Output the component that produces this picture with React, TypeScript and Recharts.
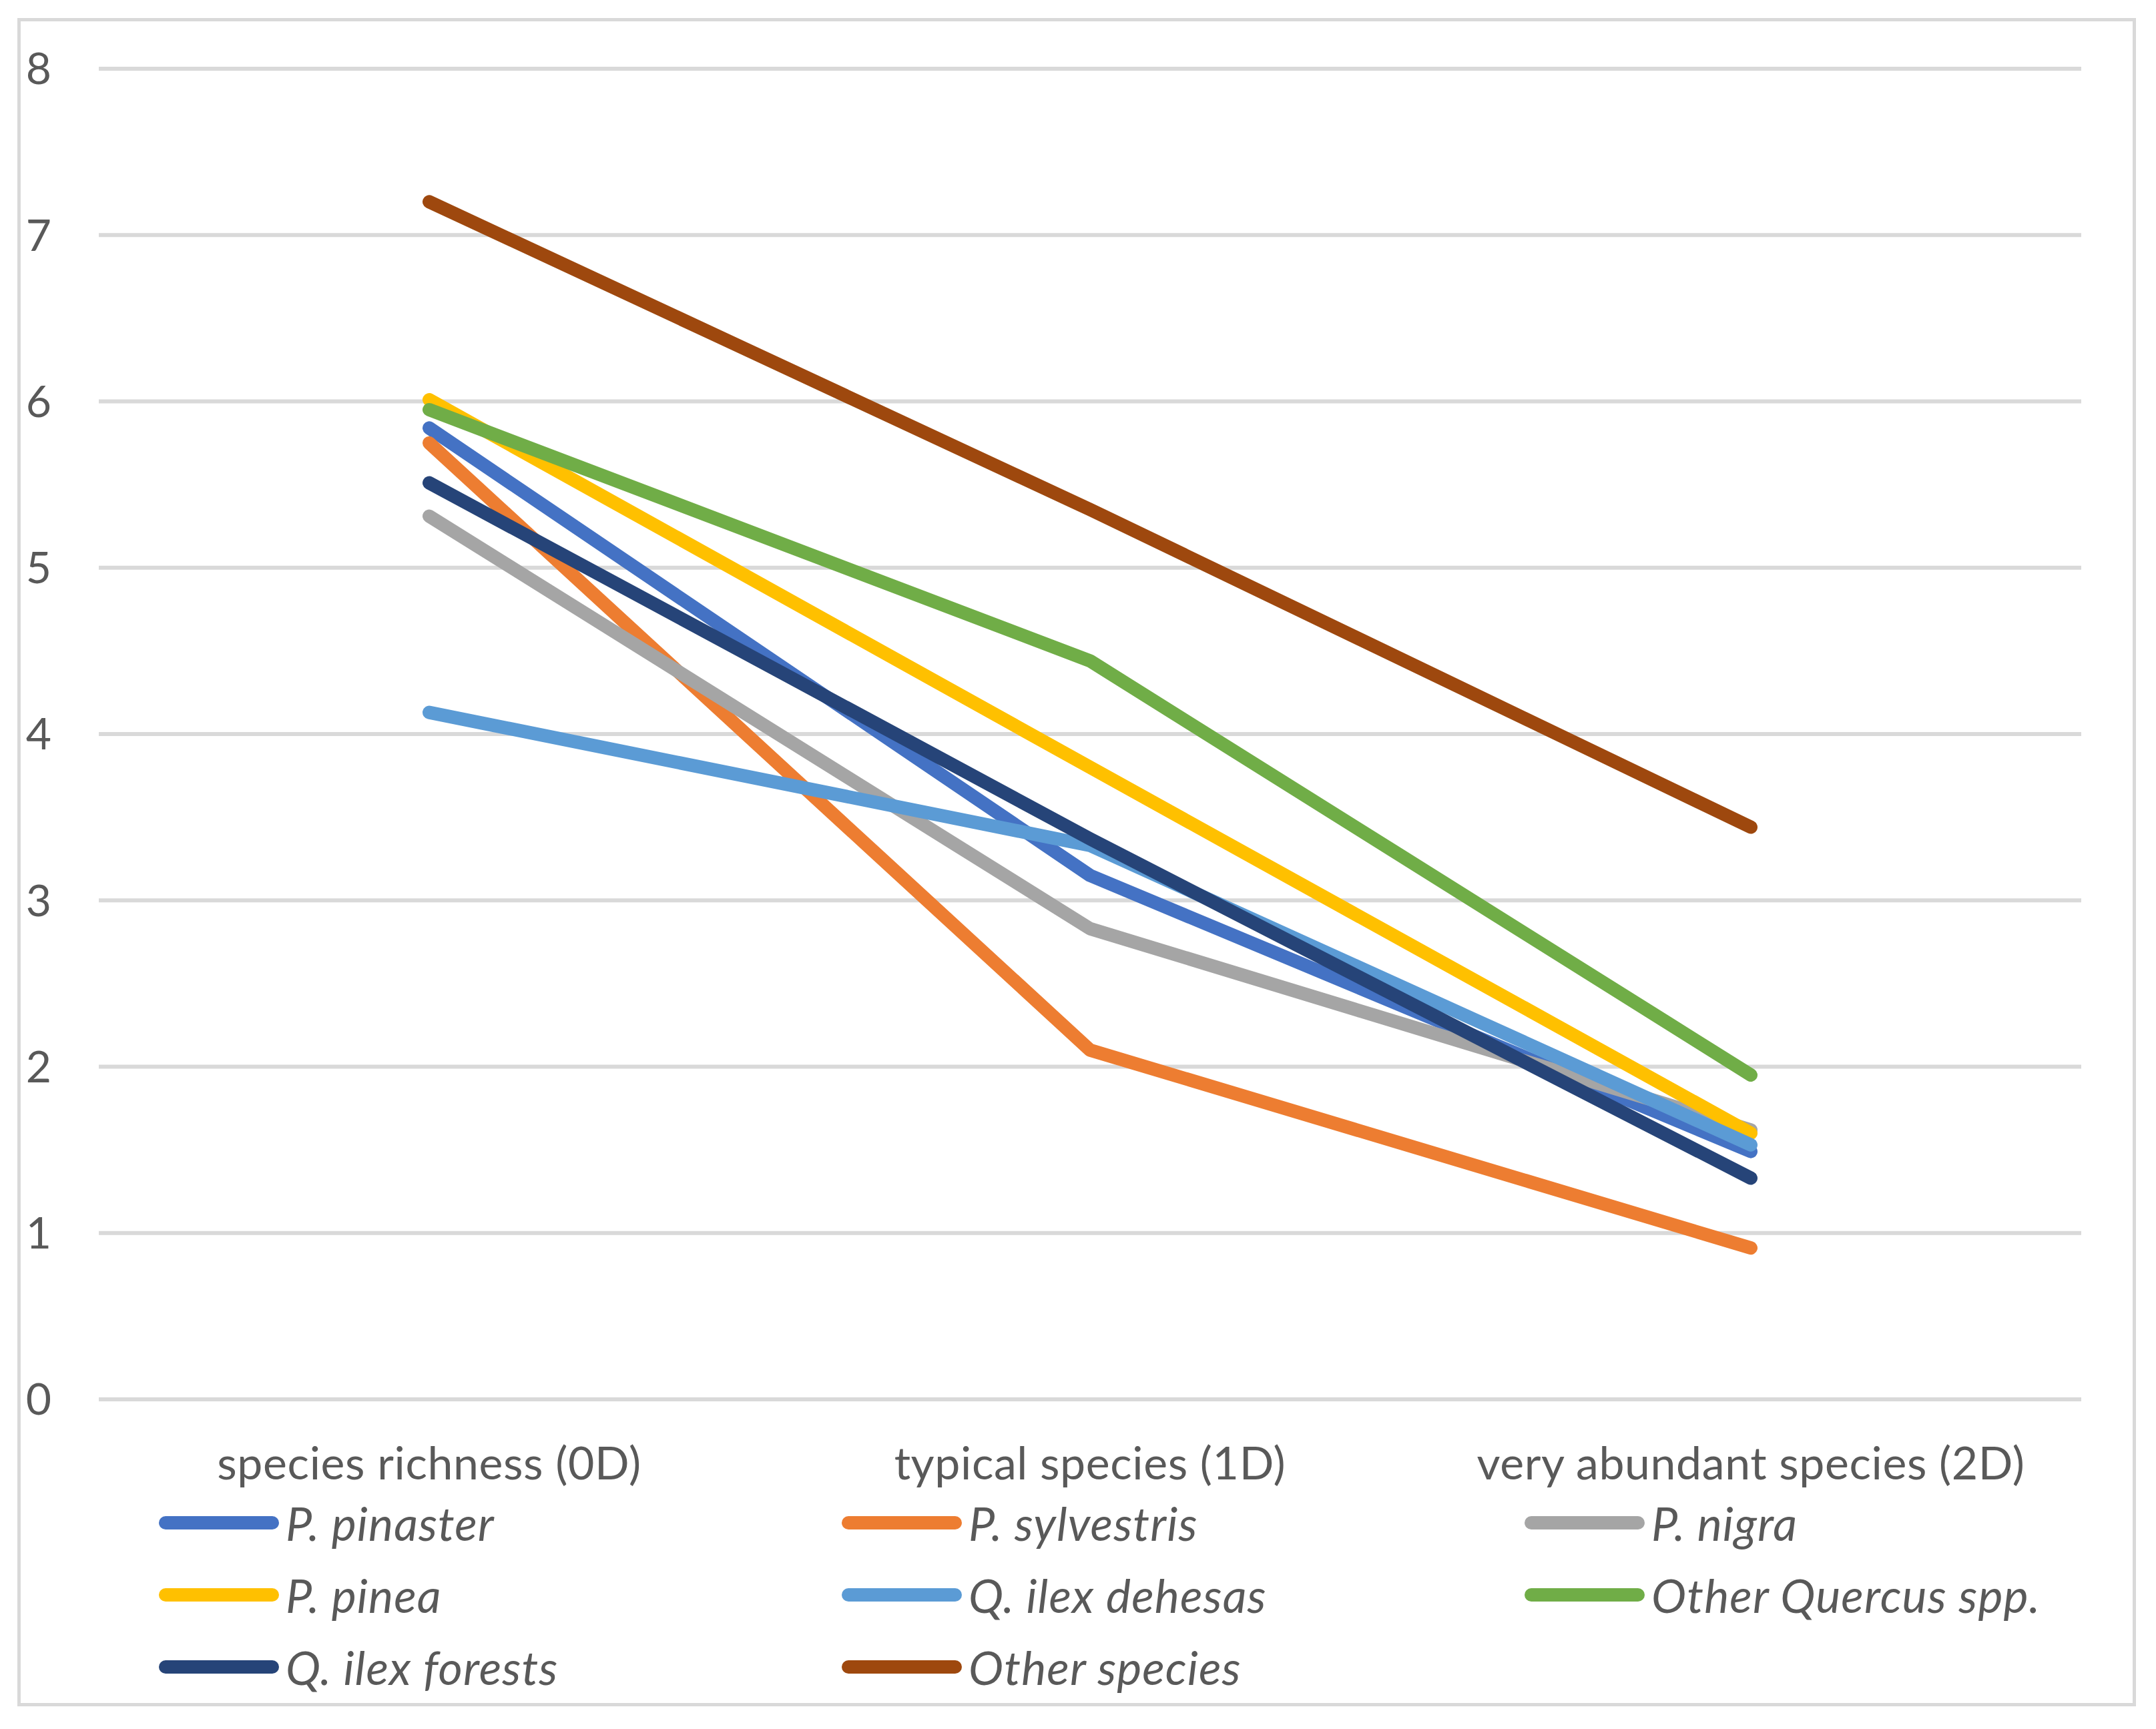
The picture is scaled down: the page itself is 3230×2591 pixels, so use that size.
import React from 'react';
import { LineChart, Line, XAxis, YAxis, CartesianGrid } from 'recharts';

const categories = ['species richness (0D)', 'typical species (1D)', 'very abundant species (2D)'];
const yTicks = [0, 1, 2, 3, 4, 5, 6, 7, 8];

const pPinaster = [5.84, 3.15, 1.49];
const pSylvestris = [5.75, 2.1, 0.91];
const pNigra = [5.31, 2.83, 1.62];
const pPinea = [6.01, 3.8, 1.6];
const qIlexDehesas = [4.13, 3.33, 1.53];
const otherQuercus = [5.95, 4.44, 1.95];
const qIlexForests = [5.51, 3.37, 1.33];
const otherSpecies = [7.2, 5.35, 3.44];

const series = [
  { key: 'pinaster', name: 'P. pinaster', values: pPinaster, color: '#4472C4' },
  { key: 'sylvestris', name: 'P. sylvestris', values: pSylvestris, color: '#ED7D31' },
  { key: 'nigra', name: 'P. nigra', values: pNigra, color: '#A5A5A5' },
  { key: 'pinea', name: 'P. pinea', values: pPinea, color: '#FFC000' },
  { key: 'dehesas', name: 'Q. ilex dehesas', values: qIlexDehesas, color: '#5B9BD5' },
  { key: 'otherQuercus', name: 'Other Quercus spp.', values: otherQuercus, color: '#70AD47' },
  { key: 'forests', name: 'Q. ilex forests', values: qIlexForests, color: '#264478' },
  { key: 'other', name: 'Other species', values: otherSpecies, color: '#9E480E' },
];

const data = categories.map((cat, i) => {
  const row: Record<string, string | number> = { category: cat };
  series.forEach(s => { row[s.key] = s.values[i]; });
  return row;
});

const FONT = 'Lato, "Open Sans", sans-serif';
const TEXT = '#595959';

export default function App() {
  return (
    <div style={{ position: 'absolute', left: 0, top: 0, width: 3230, height: 2591, background: '#fff', fontFamily: FONT }}>
      <LineChart
        width={3230}
        height={2591}
        data={data}
        margin={{ top: 103, right: 112, left: 28, bottom: 464 }}
      >
        <CartesianGrid vertical={false} stroke="#D9D9D9" strokeWidth={6} />
        <XAxis
          dataKey="category"
          height={30}
          axisLine={false}
          tickLine={false}
          tickSize={0}
          tickMargin={72}
          padding={{ left: 495, right: 495 }}
          tick={{ fill: TEXT, fontSize: 68, fontFamily: FONT, letterSpacing: 0.6 }}
          interval={0}
        />
        <YAxis
          domain={[0, 8]}
          ticks={yTicks}
          width={120}
          axisLine={false}
          tickLine={false}
          tickSize={0}
          tickMargin={71}
          tick={{ fill: TEXT, fontSize: 66, fontFamily: FONT }}
        />
        {series.map(s => (
          <Line
            key={s.key}
            type="linear"
            dataKey={s.key}
            name={s.name}
            stroke={s.color}
            strokeWidth={20}
            strokeLinecap="round"
            strokeLinejoin="round"
            dot={false}
            activeDot={false}
            isAnimationActive={false}
          />
        ))}
      </LineChart>

      {/* legend, 3 columns, row-major like Excel */}
      <div style={{ position: 'absolute', left: 238, top: 2228, width: 3069, display: 'grid', gridTemplateColumns: 'repeat(3, 1023px)', gridAutoRows: '108px' }}>
        {series.map(s => (
          <div key={s.key} style={{ display: 'flex', alignItems: 'center', height: 108 }}>
            <div style={{ width: 180, height: 20, borderRadius: 10, background: s.color, flexShrink: 0 }} />
            <span style={{ marginLeft: 10, fontSize: 70, letterSpacing: 1.1, fontStyle: 'italic', color: TEXT, whiteSpace: 'nowrap', lineHeight: 1 }}>{s.name}</span>
          </div>
        ))}
      </div>

      <div style={{ position: 'absolute', left: 26, top: 27, width: 3174, height: 2530, border: '5px solid #D9D9D9', boxSizing: 'border-box', pointerEvents: 'none' }} />
    </div>
  );
}
